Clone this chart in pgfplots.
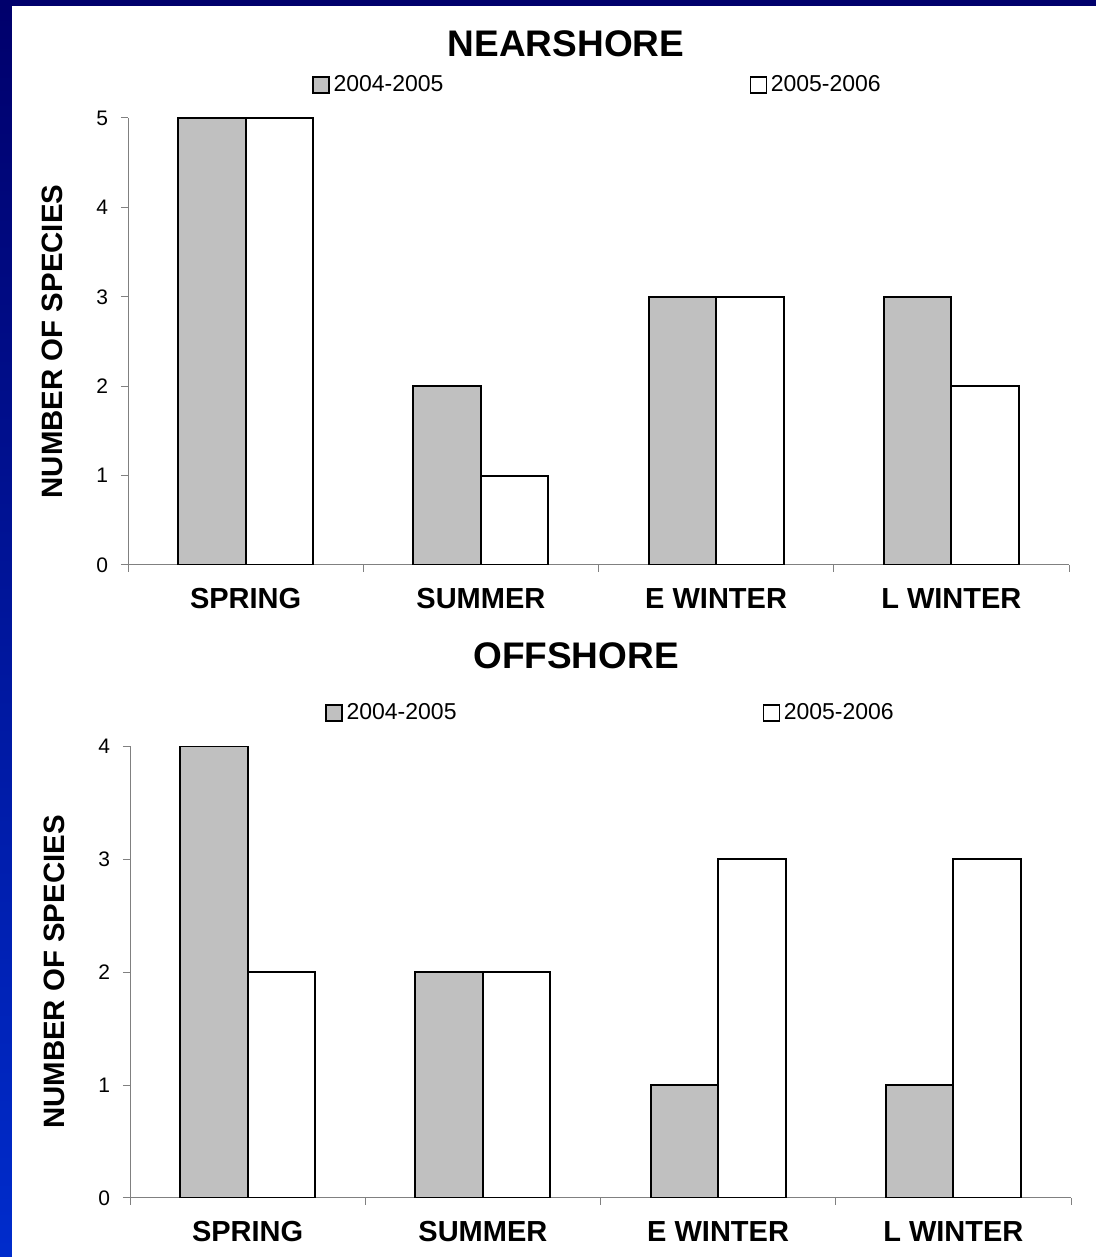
\documentclass[border=0pt]{standalone}
\usepackage{pgfplots}
\pgfplotsset{compat=1.18}
\usepackage{fontspec}
\setmainfont{Liberation Sans}

\definecolor{navy}{RGB}{0,0,108}
\definecolor{rimblue}{RGB}{0,44,204}
\definecolor{barfill}{RGB}{192,192,192}
\definecolor{axgray}{RGB}{128,128,128}

% nearshore
\pgfplotstableread{
x a b
0 5 5
1 2 1
2 3 3
3 3 2
}\nearshore
% offshore
\pgfplotstableread{
x a b
0 4 2
1 2 2
2 1 3
3 1 3
}\offshore

\pgfplotsset{
  season/.style={
    scale only axis, width=470.5pt,
    axis x line*=bottom, axis y line*=left,
    axis line style={draw=axgray, line width=0.5pt},
    xmin=-0.5, xmax=3.5, ymin=0,
    xtick={-0.5,0.5,1.5,2.5,3.5}, xticklabels={},
    extra x ticks={0,1,2,3},
    extra x tick labels={SPRING,SUMMER,E WINTER,L WINTER},
    extra x tick style={major tick length=0pt,
      tick label style={font=\bfseries\fontsize{14.5}{16}\selectfont, yshift=-8pt}},
    ytick distance=1,
    tick align=outside, major tick length=3.5pt,
    tick style={draw=axgray, line width=0.5pt},
    /pgf/number format/assume math mode=true,
    tick label style={font=\fontsize{10.5}{12}\selectfont},
    yticklabel style={xshift=-3pt},
    ylabel={NUMBER OF SPECIES},
    ylabel style={at={([xshift=-38pt]axis description cs:0,0.5)}, rotate=0, anchor=center,
      font=\bfseries\fontsize{14.7}{16}\selectfont},
    title style={font=\bfseries\fontsize{18.5}{20}\selectfont, anchor=base},
    ybar, bar width=0.287,
    every axis plot/.append style={draw=black, line width=1pt},
    legend columns=2,
    legend style={draw=none, fill=none, inner sep=0pt, anchor=west,
      font=\fontsize{11.5}{13}\selectfont,
      /tikz/every even column/.append style={column sep=151pt}},
    legend image code/.code={\draw[#1, line width=0.6pt] (0pt,-4pt) rectangle (8pt,4pt);},
  }
}

\begin{document}
\begin{tikzpicture}
\useasboundingbox (0,0) rectangle (548pt,628.5pt);
\fill[navy] (0,0) rectangle (548pt,628.5pt);
\shade[top color=navy, bottom color=rimblue] (0,0) rectangle (6pt,625.5pt);
\fill[white] (6pt,0) rectangle (548pt,625.5pt);

\begin{axis}[season, at={(64pt,346pt)}, anchor=south west, height=223.5pt,
  ymax=5, title={NEARSHORE}, title style={at={(axis description cs:0.4655,1.110)}},
  legend style={at={(axis description cs:0.1955,1.0738)}}]
\addplot[fill=barfill, bar shift=-0.1435] table[x=x, y=a] {\nearshore};
\addplot[fill=white, bar shift=0.1435] table[x=x, y=b] {\nearshore};
\legend{2004-2005, 2005-2006}
\end{axis}

\begin{axis}[season, at={(65pt,29.5pt)}, anchor=south west, height=226pt,
  ymax=4, title={OFFSHORE}, title style={at={(axis description cs:0.474,1.144)}},
  legend style={at={(axis description cs:0.2072,1.073)}}]
\addplot[fill=barfill, bar shift=-0.1435] table[x=x, y=a] {\offshore};
\addplot[fill=white, bar shift=0.1435] table[x=x, y=b] {\offshore};
\legend{2004-2005, 2005-2006}
\end{axis}
\end{tikzpicture}
\end{document}
